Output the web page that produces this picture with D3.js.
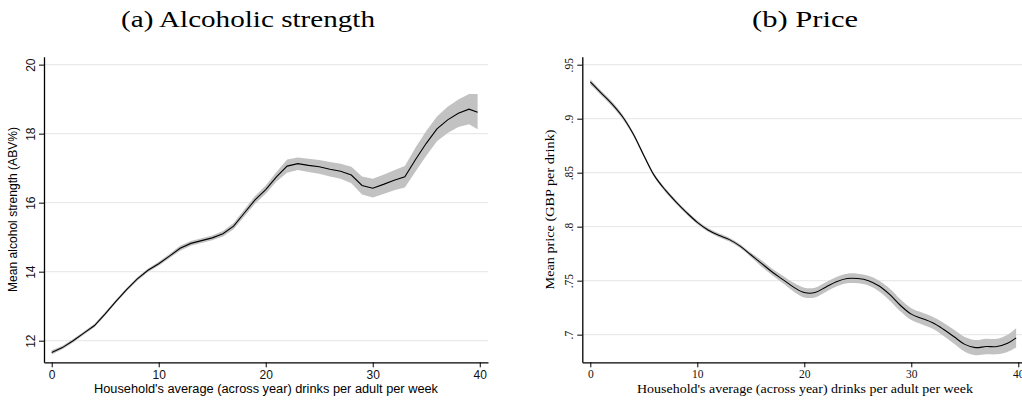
<!DOCTYPE html>
<html>
<head>
<meta charset="utf-8">
<script src="https://cdn.jsdelivr.net/npm/d3@7/dist/d3.min.js"></script>
<style>
  body { margin: 0; background: #fff; }
  svg { display: block; }
</style>
</head>
<body>
<svg id="chart" width="1022" height="401"></svg>
<script>
// x grid shared by both panels (drinks per adult per week)
var drinks = [0,1,2,3,4,5,6,7,8,9,10,11,12,13,14,15,16,17,18,19,20,
              21,22,23,24,25,26,27,28,29,30,31,32,33,34,35,36,37,38,39,39.8];

// (a) alcoholic strength, mean + 95% band
var abvMean = [11.66,11.80,12.00,12.22,12.44,12.78,13.14,13.48,13.79,14.04,14.23,
               14.45,14.68,14.82,14.90,14.98,15.10,15.32,15.70,16.08,16.38,
               16.75,17.06,17.13,17.08,17.04,16.97,16.91,16.80,16.50,16.42,
               16.53,16.65,16.75,17.25,17.72,18.14,18.40,18.59,18.71,18.62];
var abvLo   = [11.60,11.75,11.95,12.17,12.39,12.73,13.09,13.43,13.74,13.99,14.17,
               14.39,14.61,14.75,14.83,14.91,15.02,15.23,15.60,15.97,16.26,
               16.61,16.87,16.95,16.89,16.84,16.76,16.69,16.56,16.24,16.15,
               16.25,16.36,16.44,16.90,17.36,17.78,18.02,18.19,18.27,18.13];
var abvHi   = [11.72,11.85,12.05,12.27,12.49,12.83,13.19,13.53,13.84,14.09,14.29,
               14.51,14.75,14.89,14.97,15.05,15.18,15.41,15.80,16.19,16.50,
               16.89,17.25,17.31,17.27,17.24,17.18,17.13,17.04,16.76,16.69,
               16.81,16.94,17.06,17.60,18.08,18.50,18.78,18.99,19.15,19.15];

// (b) price, mean + 95% band
var priceMean = [0.934,0.924,0.914,0.902,0.886,0.866,0.847,0.834,0.823,0.813,0.804,
                 0.797,0.792,0.788,0.782,0.774,0.766,0.758,0.751,0.744,0.739,
                 0.739,0.744,0.749,0.752,0.752,0.750,0.745,0.737,0.727,0.719,
                 0.715,0.711,0.705,0.698,0.691,0.688,0.689,0.689,0.692,0.697];
var priceLo   = [0.9314,0.9218,0.9118,0.8998,0.8842,0.8642,0.8452,0.8322,0.8212,0.8112,0.8022,
                 0.7952,0.7902,0.7862,0.7802,0.7720,0.7630,0.7550,0.7475,0.7400,0.7345,
                 0.7345,0.7395,0.7445,0.7475,0.7475,0.7455,0.7400,0.7315,0.7215,0.7135,
                 0.7095,0.7055,0.6990,0.6915,0.6842,0.6810,0.6818,0.6818,0.6840,0.6880];
var priceHi   = [0.9366,0.9262,0.9162,0.9042,0.8878,0.8678,0.8488,0.8358,0.8248,0.8148,0.8058,
                 0.7988,0.7938,0.7898,0.7838,0.7760,0.7690,0.7610,0.7545,0.7480,0.7435,
                 0.7435,0.7485,0.7535,0.7565,0.7565,0.7545,0.7500,0.7425,0.7325,0.7245,
                 0.7205,0.7165,0.7110,0.7045,0.6978,0.6950,0.6962,0.6962,0.7000,0.7060];

var xTicks = [0,10,20,30,40];
var abvTicks = [12,14,16,18,20];
var priceTicks = [0.7,0.75,0.8,0.85,0.9,0.95];
var priceTickLabels = [".7",".75",".8",".85",".9",".95"];

var svg = d3.select("#chart");
var sans = "'Liberation Sans', Arial, sans-serif";
var serif = "'Liberation Serif', 'Times New Roman', serif";
var xTitle = "Household's average (across year) drinks per adult per week";

function drawPanel(opt) {
  var x = d3.scaleLinear().domain(opt.xDom).range(opt.xRange);
  var y = d3.scaleLinear().domain(opt.yDom).range(opt.yRange);
  var g = svg.append("g");
  var rows = drinks.map(function(d, i) {
    return {x: d, m: opt.mean[i], lo: opt.lo[i], hi: opt.hi[i]};
  });

  // gridlines
  g.selectAll(".grid").data(opt.yTicks).enter().append("line")
    .attr("x1", opt.xRange[0]).attr("x2", opt.xRange[1])
    .attr("y1", d => y(d)).attr("y2", d => y(d))
    .style("stroke", "#eaeaea").style("stroke-width", 1.2);

  // confidence band
  var band = d3.area().x(d => x(d.x)).y0(d => y(d.lo)).y1(d => y(d.hi)).curve(opt.curve);
  g.append("path").datum(rows).attr("d", band).style("fill", "#c2c2c2");

  // mean line
  var line = d3.line().x(d => x(d.x)).y(d => y(d.m)).curve(opt.curve);
  g.append("path").datum(rows).attr("d", line)
    .style("fill", "none").style("stroke", "#000").style("stroke-width", 1.1);

  // axes
  var yAxis = g.append("g")
    .attr("transform", "translate(" + opt.xRange[0] + ",0)")
    .call(d3.axisLeft(y).tickValues(opt.yTicks).tickSize(5).tickSizeOuter(0)
          .tickFormat((d, i) => opt.yLabels[i]));
  // stata style: y tick labels turned vertical
  yAxis.selectAll("text")
    .attr("x", 0).attr("y", 0).attr("dy", "0")
    .attr("transform", "translate(-9,0) rotate(-90)")
    .style("text-anchor", "middle");
  g.append("g")
    .attr("transform", "translate(0," + opt.yRange[0] + ")")
    .call(d3.axisBottom(x).tickValues(xTicks).tickSize(5).tickSizeOuter(0));
  g.selectAll(".domain").style("stroke", "#000").style("stroke-width", 1.3);
  g.selectAll(".tick line").style("stroke", "#000").style("stroke-width", 1);
  g.selectAll(".tick text").style("font-family", opt.font).style("font-size", opt.tickSize + "px")
    .style("fill", "#111");

  // axis titles
  svg.append("text")
    .attr("transform", "translate(" + opt.yTitleX + "," + ((opt.yRange[0] + opt.yRange[1]) / 2) + ") rotate(-90)")
    .style("text-anchor", "middle").style("font-family", opt.font)
    .style("font-size", opt.yTitleSize + "px")
    .attr("textLength", opt.yTitleLen).attr("lengthAdjust", "spacingAndGlyphs")
    .text(opt.yTitle);
  svg.append("text")
    .attr("x", opt.xTitleX).attr("y", 393)
    .style("text-anchor", "middle").style("font-family", opt.font)
    .style("font-size", opt.xTitleSize + "px")
    .attr("textLength", opt.xTitleLen).attr("lengthAdjust", "spacingAndGlyphs")
    .text(xTitle);

  // panel caption
  svg.append("text")
    .attr("x", opt.capX).attr("y", 27)
    .style("text-anchor", "middle").style("font-family", serif)
    .style("font-size", "23px")
    .attr("textLength", opt.capLen).attr("lengthAdjust", "spacingAndGlyphs")
    .text(opt.caption);
}

drawPanel({
  xDom: [-0.72, 40.77], xRange: [44, 488],
  yDom: [11.374, 20.23], yRange: [362.3, 56.7],
  mean: abvMean, lo: abvLo, hi: abvHi,
  yTicks: abvTicks, yLabels: abvTicks.map(String),
  curve: d3.curveLinear, font: sans, tickSize: 12,
  yTitle: "Mean alcohol strength (ABV%)", yTitleX: 17, yTitleSize: 12, yTitleLen: 165,
  xTitleX: 266, xTitleSize: 12.5, xTitleLen: 344,
  caption: "(a) Alcoholic strength", capX: 248, capLen: 254
});

drawPanel({
  xDom: [-0.75, 40.75], xRange: [582.3, 1026.3],
  yDom: [0.6744, 0.9574], yRange: [362.3, 56.7],
  mean: priceMean, lo: priceLo, hi: priceHi,
  yTicks: priceTicks, yLabels: priceTickLabels,
  curve: d3.curveCatmullRom, font: serif, tickSize: 11.5,
  yTitle: "Mean price (GBP per drink)", yTitleX: 554, yTitleSize: 13, yTitleLen: 160,
  xTitleX: 805, xTitleSize: 12.5, xTitleLen: 336,
  caption: "(b) Price", capX: 805, capLen: 106
});
</script>
</body>
</html>
